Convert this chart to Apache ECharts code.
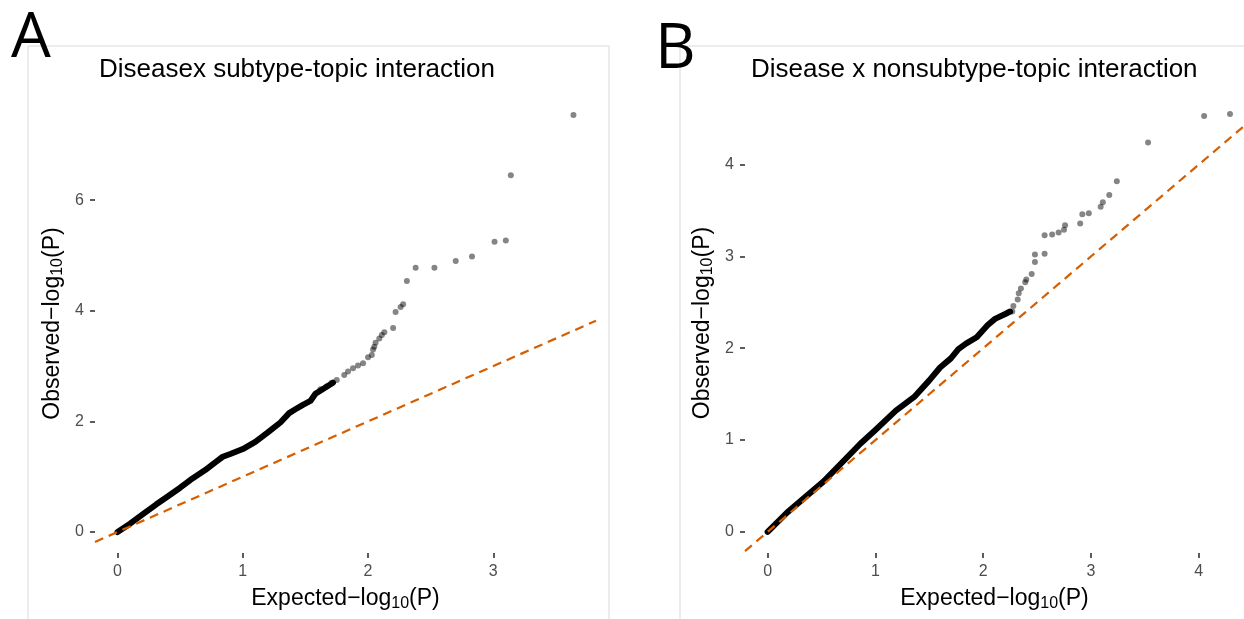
<!DOCTYPE html>
<html>
<head>
<meta charset="utf-8">
<script src="https://cdn.jsdelivr.net/npm/echarts@6/dist/echarts.min.js"></script>
<style>
html, body { margin: 0; padding: 0; background: #fff; }
#qq { width: 1244px; height: 619px; }
</style>
</head>
<body>
<div id="qq"></div>
<script>
// panel titles and tick labels
var titleA = "Diseasex subtype-topic interaction";
var titleB = "Disease x nonsubtype-topic interaction";
var xTicksA = [0, 1, 2, 3];
var yTicksA = [0, 2, 4, 6];
var xTicksB = [0, 1, 2, 3, 4];
var yTicksB = [0, 1, 2, 3, 4];

// A: dense part of the QQ curve (expected, observed)
var bandA = [
  [0, 0], [0.1, 0.15], [0.2, 0.32], [0.31, 0.5], [0.4, 0.64], [0.5, 0.8],
  [0.58, 0.94], [0.7, 1.12], [0.78, 1.26], [0.84, 1.36], [0.9, 1.41],
  [1.0, 1.5], [1.1, 1.63], [1.2, 1.8], [1.3, 1.98], [1.37, 2.15],
  [1.42, 2.22], [1.48, 2.3], [1.54, 2.37], [1.58, 2.5], [1.65, 2.6], [1.72, 2.7]
];
// A: sparse tail
var tailA = [
  [1.75, 2.75], [1.71, 2.7], [1.67, 2.63], [1.62, 2.58], [1.81, 2.84], [1.84, 2.9],
  [1.88, 2.96], [1.92, 3.01], [1.96, 3.05], [2.0, 3.16], [2.03, 3.2], [2.04, 3.3],
  [2.05, 3.35], [2.06, 3.42], [2.09, 3.5], [2.11, 3.56], [2.13, 3.61], [2.2, 3.69],
  [2.22, 3.98], [2.26, 4.07], [2.28, 4.12], [2.31, 4.54], [2.38, 4.78], [2.53, 4.78],
  [2.7, 4.9], [2.83, 4.98], [3.01, 5.25], [3.1, 5.27], [3.14, 6.45], [3.64, 7.54]
];
// B: dense part
var bandB = [
  [0, 0], [0.18, 0.21], [0.52, 0.55], [0.86, 0.96], [1.0, 1.11], [1.19, 1.32],
  [1.36, 1.47], [1.5, 1.65], [1.6, 1.79], [1.7, 1.89], [1.77, 1.99], [1.84, 2.05],
  [1.94, 2.12], [2.04, 2.25], [2.11, 2.32], [2.2, 2.37], [2.25, 2.4]
];
// B: sparse tail
var tailB = [
  [2.27, 2.4], [2.28, 2.46], [2.32, 2.53], [2.33, 2.6], [2.35, 2.65], [2.39, 2.72],
  [2.4, 2.75], [2.45, 2.81], [2.48, 2.94], [2.48, 3.02], [2.57, 3.03], [2.57, 3.23],
  [2.64, 3.24], [2.7, 3.26], [2.75, 3.29], [2.76, 3.34], [2.9, 3.36], [2.92, 3.46],
  [2.98, 3.47], [3.09, 3.54], [3.11, 3.59], [3.17, 3.67], [3.24, 3.82], [3.53, 4.24],
  [4.05, 4.53], [4.29, 4.55]
];
// y = x reference line ends
var diagA = [-0.18, 3.82];
var diagB = [-0.21, 4.42];

var font = "Liberation Sans, Arial, sans-serif";
var nameRich = {
  t: { fontSize: 23, color: "#000", fontFamily: font, lineHeight: 26 },
  s: { fontSize: 16, color: "#000", fontFamily: font, lineHeight: 10, verticalAlign: "bottom" }
};

function valueAxis(idx, min, max, ticks, name, gap) {
  return {
    type: "value",
    gridIndex: idx,
    min: min,
    max: max,
    name: name,
    nameLocation: "middle",
    nameGap: gap,
    nameTextStyle: { rich: nameRich },
    axisLine: { show: false, onZero: false },
    splitLine: { show: false },
    axisTick: {
      show: true,
      length: 5,
      customValues: ticks,
      lineStyle: { color: "#333", width: 1.6 }
    },
    axisLabel: {
      customValues: ticks,
      margin: 11,
      fontSize: 16,
      color: "#4d4d4d",
      fontFamily: font
    }
  };
}

var xName = "{t|Expected\u2212log}{s|10}{t|(P)}";
var yName = "{t|Observed\u2212log}{s|10}{t|(P)}";

var chart = echarts.init(document.getElementById("qq"));
chart.setOption({
  animation: false,
  backgroundColor: "#fff",
  title: [
    { text: titleA, left: 94, top: 52, textStyle: { fontSize: 26, fontWeight: "normal", color: "#000", fontFamily: font } },
    { text: titleB, left: 746, top: 52, textStyle: { fontSize: 26, fontWeight: "normal", color: "#000", fontFamily: font } }
  ],
  graphic: [
    { type: "line", shape: { x1: 28, y1: 46, x2: 609, y2: 46 }, style: { stroke: "#d9d9d9", lineWidth: 1 } },
    { type: "line", shape: { x1: 28, y1: 46, x2: 28, y2: 619 }, style: { stroke: "#d9d9d9", lineWidth: 1 } },
    { type: "line", shape: { x1: 609, y1: 46, x2: 609, y2: 619 }, style: { stroke: "#d9d9d9", lineWidth: 1 } },
    { type: "line", shape: { x1: 680, y1: 46, x2: 1244, y2: 46 }, style: { stroke: "#d9d9d9", lineWidth: 1 } },
    { type: "line", shape: { x1: 680, y1: 46, x2: 680, y2: 619 }, style: { stroke: "#d9d9d9", lineWidth: 1 } },
    { type: "text", left: 11, top: 8, style: { text: "A", fontSize: 63, fill: "#000", fontFamily: "Open Sans, Noto Sans, sans-serif" } },
    { type: "text", left: 655, top: 19, style: { text: "B", fontSize: 63, fill: "#000", fontFamily: "Open Sans, Noto Sans, sans-serif" } }
  ],
  grid: [
    { left: 95, top: 94, width: 501, height: 459 },
    { left: 745, top: 93, width: 499, height: 460 }
  ],
  xAxis: [
    valueAxis(0, diagA[0], diagA[1], xTicksA, xName, 33),
    valueAxis(1, diagB[0], diagB[1], xTicksB, xName, 33)
  ],
  yAxis: [
    valueAxis(0, -0.38, 7.92, yTicksA, yName, 29),
    valueAxis(1, -0.23, 4.78, yTicksB, yName, 29)
  ],
  series: [
    { type: "line", xAxisIndex: 0, yAxisIndex: 0, data: bandA, symbol: "none",
      lineStyle: { color: "#000", width: 6, join: "round", cap: "round" } },
    { type: "scatter", xAxisIndex: 0, yAxisIndex: 0, data: tailA, symbolSize: 6,
      itemStyle: { color: "rgba(0,0,0,0.6)" } },
    { type: "line", xAxisIndex: 0, yAxisIndex: 0, data: [[diagA[0], diagA[0]], [diagA[1], diagA[1]]],
      symbol: "none", z: 5, lineStyle: { color: "#D55E00", width: 2.2, type: [9, 6] } },
    { type: "line", xAxisIndex: 1, yAxisIndex: 1, data: bandB, symbol: "none",
      lineStyle: { color: "#000", width: 6, join: "round", cap: "round" } },
    { type: "scatter", xAxisIndex: 1, yAxisIndex: 1, data: tailB, symbolSize: 6,
      itemStyle: { color: "rgba(0,0,0,0.6)" } },
    { type: "line", xAxisIndex: 1, yAxisIndex: 1, data: [[diagB[0], diagB[0]], [diagB[1], diagB[1]]],
      symbol: "none", z: 5, lineStyle: { color: "#D55E00", width: 2.2, type: [9, 6] } }
  ]
});
</script>
</body>
</html>
